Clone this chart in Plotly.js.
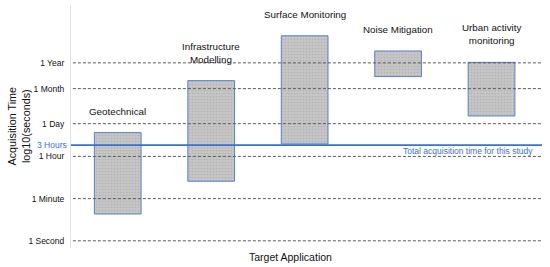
<!DOCTYPE html>
<html>
<head>
<meta charset="utf-8">
<script src="https://cdn.plot.ly/plotly-3.0.1.min.js"></script>
<style>html,body{margin:0;padding:0;background:#fff;}#chart{width:550px;height:267px;}</style>
</head>
<body>
<div id="chart"></div>
<script>
// Data (acquisition time ranges in log10(seconds))
const categories = ["Geotechnical", "Infrastructure Modelling", "Surface Monitoring", "Noise Mitigation", "Urban activity monitoring"];
const categoryLabels = ["Geotechnical", "Infrastructure<br>Modelling", "Surface Monitoring", "Noise Mitigation", "Urban activity<br>monitoring"];
const lowLog10 = [1.13, 2.51, 4.08, 6.92, 5.26];
const highLog10 = [4.56, 6.75, 8.64, 8.00, 7.52];
const tickSeconds = [1, 60, 3600, 86400, 2592000, 31536000];
const tickLabels = ["1 Second", "1 Minute", "1 Hour", "1 Day", "1 Month", "1 Year"];
const studySeconds = 10800; // 3 Hours
const studyLabel = "3 Hours";
const studyNote = "Total acquisition time for this study";

const FONT = "Liberation Sans, Arial, Helvetica, sans-serif";
const tickVals = tickSeconds.map(s => Math.log10(s));
const studyLog = Math.log10(studySeconds);

const trace = {
  type: "bar",
  x: categories,
  base: lowLog10,
  y: highLog10.map((h, i) => h - lowLog10[i]),
  width: 0.5,
  marker: {
    color: "#c4c4c4",
    line: {color: "#5b80c8", width: 1},
    pattern: {shape: ".", fgcolor: "#b3b3b3", bgcolor: "#c6c6c6", size: 3, solidity: 0.25}
  },
  hoverinfo: "skip"
};

const shapes = tickVals.map(v => ({
  type: "line", xref: "paper", yref: "y", x0: 0.004, x1: 1, y0: v, y1: v,
  line: {color: "#5a5a5a", width: 1, dash: "3px,2px"}, layer: "above"
}));
shapes.push({
  type: "line", xref: "paper", yref: "y", x0: 0, x1: 1, y0: studyLog, y1: studyLog,
  line: {color: "#3d6fd2", width: 1.6}, layer: "above"
});

const annotations = categories.map((c, i) => ({
  x: c, y: highLog10[i], xref: "x", yref: "y", text: categoryLabels[i],
  showarrow: false, yanchor: "bottom", yshift: 14,
  font: {family: FONT, size: 9.8, color: "#111"}
}));
annotations.push({
  x: 0, y: studyLog, xref: "paper", yref: "y", text: studyLabel, showarrow: false,
  xanchor: "right", yanchor: "middle", xshift: -2,
  font: {family: FONT, size: 8.5, color: "#3d6fd2"}
});
annotations.push({
  x: 1, y: studyLog, xref: "paper", yref: "y", text: studyNote, showarrow: false,
  xanchor: "right", yanchor: "middle", xshift: -7, yshift: -5.5,
  font: {family: FONT, size: 8.5, color: "#3d6fd2"}
});
annotations.push({
  x: -0.1125, y: 0.5, xref: "paper", yref: "paper", text: "Acquisition Time<br>log10(seconds)",
  showarrow: false, textangle: -90, xanchor: "center", yanchor: "middle",
  font: {family: FONT, size: 10.8, color: "#111"}
});
annotations.push({
  x: 0.465, y: 0, xref: "paper", yref: "paper", text: "Target Application",
  showarrow: false, xanchor: "center", yanchor: "top", yshift: -1,
  font: {family: FONT, size: 10.5, color: "#111"}
});

const layout = {
  width: 550, height: 267,
  margin: {l: 71, r: 8, t: 5, b: 19},
  paper_bgcolor: "#fff", plot_bgcolor: "#fff",
  showlegend: false,
  xaxis: {
    type: "category", range: [-0.5, 4.54], showticklabels: false, showgrid: false,
    zeroline: false, showline: false, ticks: ""
  },
  yaxis: {
    range: [-0.303, 9.937], tickvals: tickVals, ticktext: tickLabels,
    showgrid: false, zeroline: false, showline: true, linecolor: "#e2e2e2", linewidth: 1,
    ticks: "outside", ticklen: 4, tickcolor: "rgba(0,0,0,0)",
    tickfont: {family: FONT, size: 8.5, color: "#111"}
  },
  shapes: shapes,
  annotations: annotations
};

Plotly.newPlot("chart", [trace], layout, {displayModeBar: false, staticPlot: true});
</script>
</body>
</html>
